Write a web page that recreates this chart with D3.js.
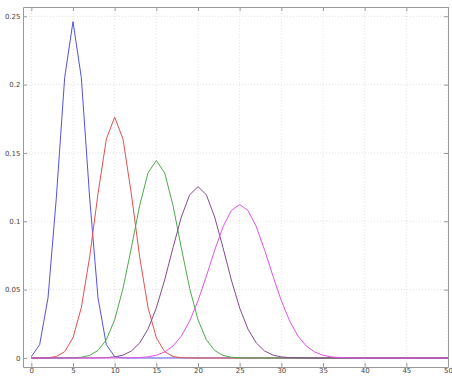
<!DOCTYPE html>
<html>
<head>
<meta charset="utf-8">
<script src="https://cdn.jsdelivr.net/npm/d3@7"></script>
<style>
  body { margin: 0; background: #fff; overflow: hidden; }
  .tick text { font-family: "DejaVu Sans", sans-serif; font-size: 7px; fill: #444; }
</style>
</head>
<body>
<script>
// x = 0..50
const xs = d3.range(0, 51);

const blue = [0.00098,0.00977,0.04395,0.11719,0.20508,0.24609,0.20508,0.11719,0.04395,0.00977,
  0.00098,0,0,0,0,0,0,0,0,0,
  0,0,0,0,0,0,0,0,0,0,
  0,0,0,0,0,0,0,0,0,0,
  0,0,0,0,0,0,0,0,0,0,0];
const red = [0,0.00002,0.00018,0.00109,0.00462,0.01479,0.03696,0.07393,0.12013,0.16018,
  0.17620,0.16018,0.12013,0.07393,0.03696,0.01479,0.00462,0.00109,0.00018,0.00002,
  0,0,0,0,0,0,0,0,0,0,
  0,0,0,0,0,0,0,0,0,0,
  0,0,0,0,0,0,0,0,0,0,0];
const green = [0,0,0,0,0.00003,0.00013,0.00055,0.00190,0.00545,0.01332,
  0.02798,0.05088,0.08055,0.11154,0.13544,0.14446,0.13544,0.11154,0.08055,0.05088,
  0.02798,0.01332,0.00545,0.00190,0.00055,0.00013,0.00003,0,0,0,
  0,0,0,0,0,0,0,0,0,0,
  0,0,0,0,0,0,0,0,0,0,0];
const purple = [0,0,0,0,0,0,0,0.00002,0.00007,0.00025,
  0.00077,0.00210,0.00508,0.01094,0.02111,0.03659,0.05716,0.08070,0.10312,0.11940,
  0.12537,0.11940,0.10312,0.08070,0.05716,0.03659,0.02111,0.01094,0.00508,0.00210,
  0.00077,0.00025,0.00007,0.00002,0,0,0,0,0,0,
  0,0,0,0,0,0,0,0,0,0,0];
const magenta = [0,0,0,0,0,0,0,0,0,0,
  0.00001,0.00003,0.00011,0.00032,0.00083,0.00200,0.00437,0.00875,0.01604,0.02701,
  0.04186,0.05980,0.07883,0.09596,0.10796,0.11228,0.10796,0.09596,0.07883,0.05980,
  0.04186,0.02701,0.01604,0.00875,0.00437,0.00200,0.00083,0.00032,0.00011,0.00003,
  0.00001,0,0,0,0,0,0,0,0,0,0];

const xTicks = [0, 5, 10, 15, 20, 25, 30, 35, 40, 45, 50];
const yTicks = [0, 0.05, 0.1, 0.15, 0.2, 0.25];

const series = [
  {values: blue, color: "#5252e0"},
  {values: red, color: "#e45050"},
  {values: green, color: "#4caa4c"},
  {values: purple, color: "#854a8e"},
  {values: magenta, color: "#e452e4"}
];

var margin = {top: 7, right: 4, bottom: 9, left: 23},
    width = 452 - margin.left - margin.right,
    height = 376 - margin.top - margin.bottom;

var x = d3.scaleLinear().domain([-1, 50]).range([0, width]);
var y = d3.scaleLinear().domain([-0.0066, 0.2568]).range([height, 0]);

var svg = d3.select("body").append("svg")
    .attr("width", 452)
    .attr("height", 376)
  .append("g")
    .attr("transform", "translate(" + margin.left + "," + margin.top + ")");

// dotted grid
svg.append("g").selectAll("line")
    .data(xTicks)
  .enter().append("line")
    .attr("x1", d => x(d)).attr("x2", d => x(d))
    .attr("y1", 0).attr("y2", height)
    .attr("stroke", "#e2e2e2").attr("stroke-dasharray", "1,2");
svg.append("g").selectAll("line")
    .data(yTicks)
  .enter().append("line")
    .attr("x1", 0).attr("x2", width)
    .attr("y1", d => y(d)).attr("y2", d => y(d))
    .attr("stroke", "#e2e2e2").attr("stroke-dasharray", "1,2");

// box axes, ticks pointing inward
function styleAxis(g) {
  g.select(".domain").attr("stroke", "#999");
  g.selectAll(".tick line").attr("stroke", "#999");
}
svg.append("g")
    .attr("transform", "translate(0," + height + ")")
    .call(d3.axisBottom(x).tickValues(xTicks).tickSize(-4).tickSizeOuter(0).tickPadding(1.5))
    .call(styleAxis);
svg.append("g")
    .call(d3.axisTop(x).tickValues(xTicks).tickSize(-4).tickSizeOuter(0).tickFormat(""))
    .call(styleAxis);
svg.append("g")
    .call(d3.axisLeft(y).tickValues(yTicks).tickSize(-4).tickSizeOuter(0).tickPadding(2.5)
      .tickFormat(d => d3.format("")(+d.toFixed(2))))
    .call(styleAxis);
svg.append("g")
    .attr("transform", "translate(" + width + ",0)")
    .call(d3.axisRight(y).tickValues(yTicks).tickSize(-4).tickSizeOuter(0).tickFormat(""))
    .call(styleAxis);

var line = d3.line()
    .x((d, i) => x(xs[i]))
    .y(d => y(d));

svg.selectAll(".curve")
    .data(series)
  .enter().append("path")
    .attr("class", "curve")
    .attr("fill", "none")
    .attr("stroke", d => d.color)
    .attr("stroke-width", 1)
    .attr("d", d => line(d.values));
</script>
</body>
</html>
